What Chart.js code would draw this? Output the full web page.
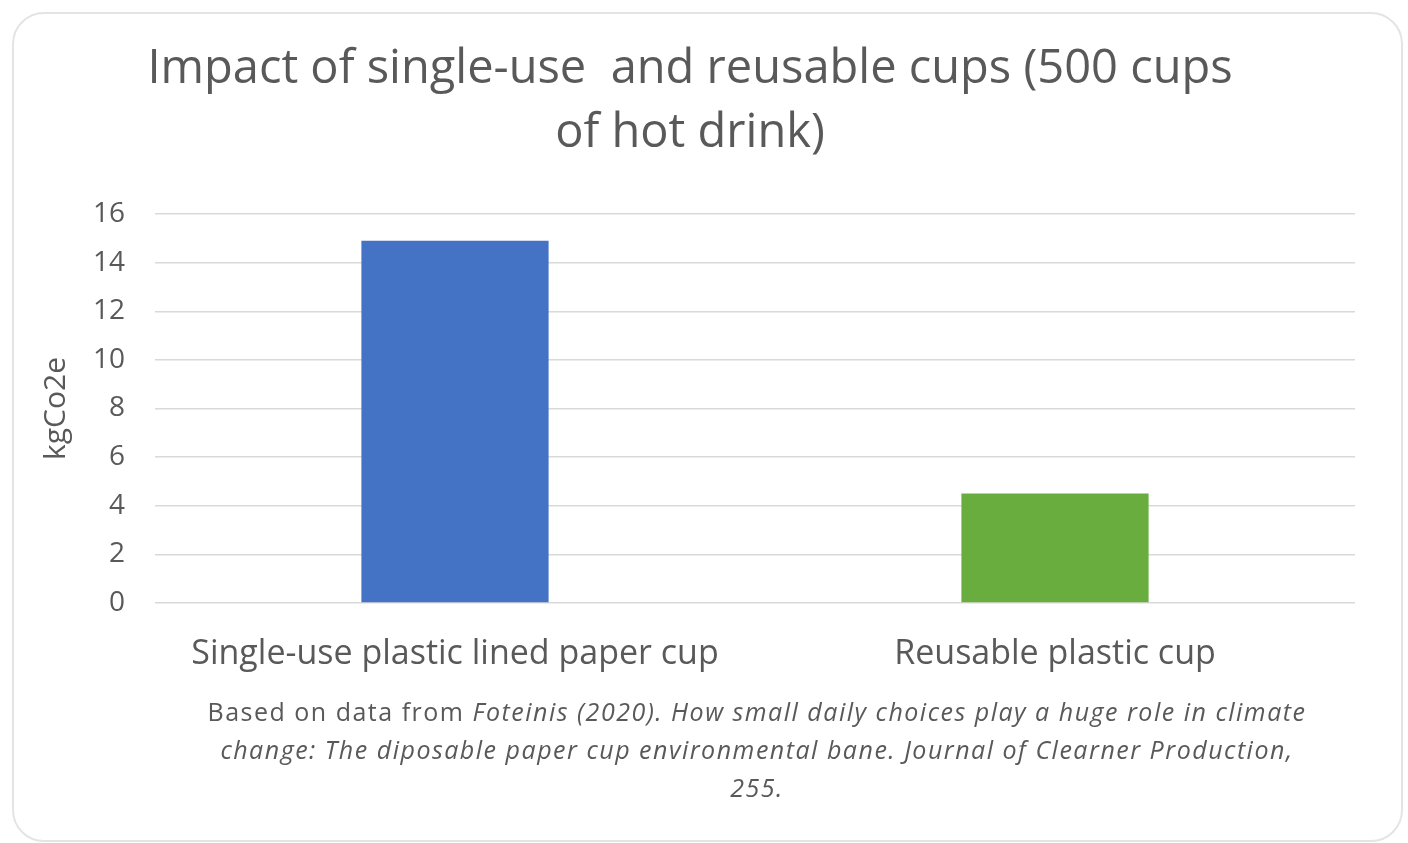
<!DOCTYPE html>
<html>
<head>
<meta charset="utf-8">
<script src="https://cdn.jsdelivr.net/npm/chart.js@4/dist/chart.umd.min.js"></script>
<style>
  html, body { margin: 0; padding: 0; background: #ffffff; width: 1408px; height: 843px; overflow: hidden; }
  #card { position: absolute; left: 12px; top: 12px; width: 1387px; height: 826px; border: 2px solid #e4e4e4; border-radius: 32px; background: #fff; }
  #wrap { position: absolute; left: 25px; top: 0; width: 1330px; height: 843px; }
  #caption { position: absolute; left: 107px; width: 1300px; top: 692px; text-align: center; font-family: 'Open Sans', sans-serif; font-size: 25px; letter-spacing: 1.5px; line-height: 38px; color: #595959; white-space: nowrap; }
</style>
</head>
<body>
<div id="card"></div>
<div id="wrap"><canvas id="c"></canvas></div>
<div id="caption">Based on data from <i>Foteinis (2020). How small daily choices play a huge role in climate<br>change: The diposable paper cup environmental bane. Journal of Clearner Production,<br>255.</i></div>
<script>
const titleLines = ['Impact of single-use  and reusable cups (500 cups', 'of hot drink)'];
const categories = ['Single-use plastic lined paper cup', 'Reusable plastic cup'];
const values = [14.9, 4.5];
const barColors = ['#4472C4', '#6AAD3F'];
const yAxisTitle = 'kgCo2e';
const yMin = 0, yMax = 16, yStep = 2;

const textColor = '#595959';
new Chart(document.getElementById('c'), {
  type: 'bar',
  data: {
    labels: categories,
    datasets: [{
      data: values,
      backgroundColor: barColors,
      borderWidth: 0,
      barPercentage: 0.312,
      categoryPercentage: 1
    }]
  },
  options: {
    responsive: true,
    maintainAspectRatio: false,
    animation: false,
    layout: { padding: { left: 0, right: 0, top: 0, bottom: 140 } },
    plugins: {
      legend: { display: false },
      tooltip: { enabled: false },
      title: {
        display: true,
        text: titleLines,
        color: textColor,
        font: { family: 'Open Sans', size: 47, weight: 'normal', lineHeight: 64 / 47 },
        padding: { top: 38, bottom: 48 }
      }
    },
    scales: {
      x: {
        grid: { display: false, drawTicks: false },
        border: { display: false },
        ticks: { color: textColor, padding: 31, font: { family: 'Open Sans', size: 34 } },
        afterFit: (s) => { s.height = 100; }
      },
      y: {
        min: yMin, max: yMax,
        grid: { color: '#d9d9d9', lineWidth: 1.5, drawTicks: false },
        border: { display: false },
        ticks: { stepSize: yStep, color: textColor, padding: 30, font: { family: 'Open Sans', size: 28 } },
        title: { display: true, text: yAxisTitle, color: textColor, padding: { top: 13, bottom: 0 }, font: { family: 'Open Sans', size: 30 } },
        afterFit: (s) => { s.width = 130; }
      }
    }
  }
});
</script>
</body>
</html>
